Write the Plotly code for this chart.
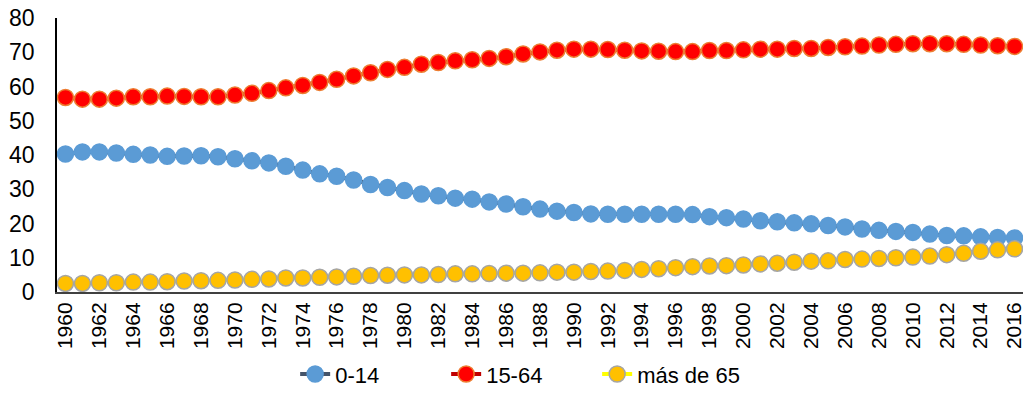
import plotly.graph_objects as go

years = list(range(1960, 2017))

age_0_14 = [40.3, 40.9, 40.9, 40.6, 40.2, 40.0, 39.6, 39.7, 39.8, 39.5,
            38.9, 38.3, 37.7, 36.7, 35.6, 34.5, 33.8, 32.7, 31.4, 30.5,
            29.6, 28.6, 28.1, 27.4, 27.1, 26.3, 25.7, 24.9, 24.2, 23.6,
            23.2, 22.8, 22.7, 22.7, 22.7, 22.7, 22.7, 22.6, 22.0, 21.7,
            21.3, 20.8, 20.5, 20.2, 19.9, 19.4, 19.0, 18.4, 18.0, 17.7,
            17.4, 16.9, 16.5, 16.4, 16.1, 15.9, 15.8]

age_15_64 = [56.8, 56.3, 56.3, 56.6, 57.0, 57.0, 57.2, 57.1, 57.0, 57.0,
             57.5, 58.0, 58.8, 59.6, 60.3, 61.2, 62.1, 63.1, 64.0, 65.0,
             65.6, 66.5, 67.0, 67.5, 67.8, 68.2, 68.7, 69.5, 70.1, 70.6,
             70.9, 70.9, 70.8, 70.6, 70.4, 70.3, 70.2, 70.2, 70.5, 70.5,
             70.7, 70.9, 70.9, 71.1, 71.1, 71.4, 71.6, 71.8, 72.1, 72.3,
             72.5, 72.5, 72.5, 72.3, 72.1, 71.9, 71.7]

age_65_plus = [2.5, 2.5, 2.7, 2.7, 2.9, 2.9, 3.0, 3.2, 3.3, 3.4,
               3.5, 3.7, 3.8, 4.1, 4.1, 4.3, 4.4, 4.6, 4.8, 4.9,
               5.0, 5.0, 5.1, 5.3, 5.3, 5.4, 5.5, 5.5, 5.6, 5.8,
               5.8, 6.0, 6.1, 6.3, 6.6, 6.8, 7.1, 7.4, 7.6, 7.7,
               7.9, 8.2, 8.4, 8.7, 9.0, 9.1, 9.5, 9.6, 9.8, 10.0,
               10.2, 10.5, 10.9, 11.3, 11.9, 12.3, 12.6]

series_names = ["0-14", "15-64", "más de 65"]
tick_years = years[::2]

fig = go.Figure()
styles = [
    dict(line="#44546A", fill="#5B9BD5", edge="#5B9BD5"),
    dict(line="#C00000", fill="#FF0000", edge="#ED7D31"),
    dict(line="#FFFF00", fill="#FFC000", edge="#A5A5A5"),
]
for name, vals, st in zip(series_names, [age_0_14, age_15_64, age_65_plus], styles):
    fig.add_trace(go.Scatter(
        x=years, y=vals, name=name, mode="lines+markers",
        line=dict(color=st["line"], width=4),
        marker=dict(size=16, color=st["fill"], line=dict(color=st["edge"], width=1.5)),
    ))

fig.update_layout(
    width=1024, height=410,
    margin=dict(l=57, r=1, t=18, b=118, autoexpand=False),
    plot_bgcolor="white", paper_bgcolor="white",
    font=dict(family="Liberation Sans, Arial, sans-serif", color="black"),
    showlegend=True,
    legend=dict(orientation="h", x=0.481, xanchor="center", y=-0.30, yanchor="middle",
                font=dict(size=22), entrywidth=106, entrywidthmode="pixels"),
)
fig.update_xaxes(
    range=[1959.5, 2016.5], tickmode="array", tickvals=tick_years,
    ticktext=[str(y) for y in tick_years], tickangle=-90,
    tickfont=dict(size=21), showgrid=False, zeroline=False,
    showline=True, linecolor="#404040", linewidth=2, ticks="", automargin=False,
    ticklabeloverflow="allow",
)
fig.update_yaxes(
    range=[0, 80], dtick=10, tickfont=dict(size=23), showgrid=False,
    zeroline=False, showline=True, linecolor="black", linewidth=1.5, ticks="",
    ticklabelstandoff=16, automargin=False,
)

fig.write_html("out.html", config={"displayModeBar": False},
               post_script="document.body.style.margin='0';document.body.style.overflow='hidden';")
